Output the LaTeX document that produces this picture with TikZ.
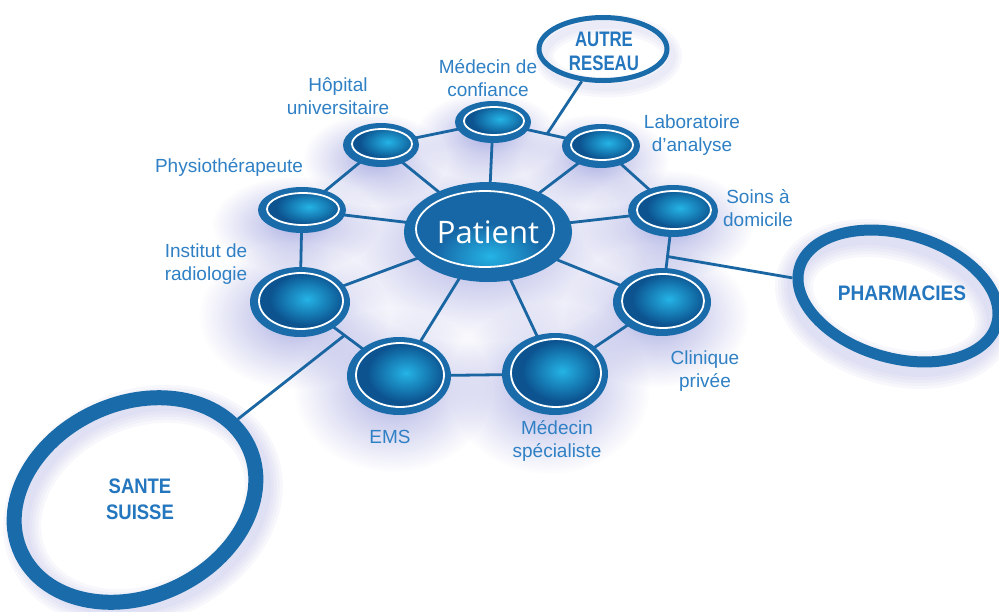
\documentclass[tikz,border=0pt]{standalone}
\usepackage{fontspec}
\usepackage{graphicx}
\setmainfont{Liberation Sans}
\newfontfamily\patfont{Open Sans}
\usetikzlibrary{shapes.geometric,fadings,calc}
\definecolor{ringblue}{HTML}{1A6BA9}
\definecolor{patblue}{HTML}{1767A6}
\definecolor{darkin}{HTML}{0C5390}
\definecolor{hlc}{HTML}{25B4E6}
\definecolor{linec}{HTML}{1A66A2}
\definecolor{textc}{HTML}{2F80C4}
\definecolor{btextc}{HTML}{2476BE}
\definecolor{glowc}{HTML}{8C90D8}
\tikzfading[name=softglow, inner color=transparent!0, outer color=transparent!100]
\pgfdeclarelayer{glowlayer}
\pgfdeclarelayer{linelayer}
\pgfsetlayers{glowlayer,linelayer,main}
\newcommand\cond[2]{\scalebox{#1}[1]{#2}}
\tikzset{
  satn/.style 2 args={ellipse, fill=ringblue, inner sep=0pt, outer sep=0pt,
    minimum width={2*#1pt}, minimum height={2*#2pt},
    path picture={
      \fill[darkin] ($(path picture bounding box.center)+(1,-1)$) ellipse ({#1-9} and {#2-8});
      \begin{scope}
        \clip ($(path picture bounding box.center)+(1,-1)$) ellipse ({#1-9} and {#2-8});
        \fill[hlc, path fading=softglow]
          ($(path picture bounding box.center)+(7,-3)$) ellipse ({0.75*#1} and {0.75*#2});
      \end{scope}
      \draw[white, line width=1.8pt]
        ($(path picture bounding box.center)+(1,-1)$) ellipse ({#1-8} and {#2-7});
    }},
  patn/.style={ellipse, fill=ringblue, inner sep=0pt, outer sep=0pt,
    minimum width=168pt, minimum height=100pt, text=white,
    font=\patfont\fontsize{31}{31}\selectfont,
    path picture={
      \fill[patblue] ($(path picture bounding box.center)+(-3,-3)$) ellipse (69 and 38);
      \begin{scope}
        \clip ($(path picture bounding box.center)+(-3,-3)$) ellipse (69 and 38);
        \fill[hlc, path fading=softglow]
          ($(path picture bounding box.center)+(2,24)$) ellipse (55 and 32);
      \end{scope}
      \draw[white, line width=1.8pt]
        ($(path picture bounding box.center)+(-3,-3)$) ellipse (69 and 38);
    }},
  bigr/.style={ellipse, draw=ringblue, inner sep=0pt},
  conn/.style={draw=linec, line width=2.8pt},
  lbl/.style={text=textc, align=center, inner sep=0pt, font=\fontsize{19}{23}\selectfont},
  btxt/.style={text=btextc, align=center, inner sep=0pt, font=\bfseries\fontsize{21}{#1}\selectfont},
  glowring/.style={draw=glowc, opacity=0.06}
}
\newcommand\glowat[4]{\begin{pgfonlayer}{glowlayer}\fill[glowc, path fading=softglow, opacity=.7] (#1,#2) ellipse ({#3} and {#4});\end{pgfonlayer}}
\begin{document}
\begin{tikzpicture}[x=1pt, y=-1pt]
\useasboundingbox (0,0) rectangle (999,611);
\begin{pgfonlayer}{glowlayer}
  \fill[white] (0,0) rectangle (999,611);
  % soft shadows of the big rings
  \foreach \w in {14,20,26,32,38}{
    \draw[glowring, line width=\w pt, rotate around={25:(143,506)}] (143,506) ellipse (125.5 and 96.5);
    \draw[glowring, line width=\w pt, rotate around={-16:(894,304)}] (894,304) ellipse (102.5 and 62);
  }
  \foreach \w in {8,14,20}{
    \draw[glowring, line width=\w pt] (608,56) ellipse (64 and 31.5);
  }
\end{pgfonlayer}

% glows under the nodes
\glowat{480}{246}{150}{95}
\glowat{487}{136}{72}{44}
\glowat{595}{160}{74}{46}
\glowat{667}{225}{86}{55}
\glowat{656}{316}{93}{71}
\glowat{549}{388}{101}{86}
\glowat{393}{390}{99}{82}
\glowat{294}{316}{95}{73}
\glowat{296}{224}{84}{48}
\glowat{375}{159}{72}{46}

% nodes
\node[patn] (pat) at (488,232) {Patient};
\node[satn={38}{21}] (mdc) at (493,122) {};
\node[satn={39}{22}] (lab) at (601,146) {};
\node[satn={45}{26}] (soi) at (673,211) {};
\node[satn={49}{34}] (cli) at (662,302) {};
\node[satn={53}{41}] (msp) at (555,374) {};
\node[satn={52}{39}] (ems) at (399,376) {};
\node[satn={50}{35}] (rad) at (300,302) {};
\node[satn={44}{23}] (phy) at (302,210) {};
\node[satn={38}{22}] (hop) at (381,145) {};

% outer networks
\node[bigr, line width=5pt, minimum width=128pt, minimum height=63pt] (aut) at (603,49) {};
\node[bigr, line width=11pt, minimum width=205pt, minimum height=124pt, rotate=-16] (phar) at (898,296) {};
\node[bigr, line width=15pt, minimum width=251pt, minimum height=193pt, rotate=25] (san) at (135,500) {};
\node[btxt=24] (taut) at (604,51) {\cond{0.8}{AUTRE}\\\cond{0.8}{RESEAU}};
\node[btxt=24] (tphar) at (902,293) {\cond{0.91}{PHARMACIES}};
\node[btxt=26] (tsan) at (140,499) {\cond{0.88}{SANTE}\\\cond{0.88}{SUISSE}};

% labels
\node[lbl] (lmdc) at (488,78) {Médecin de\\confiance};
\node[lbl] (llab) at (692,135) {Laboratoire\\d’analyse};
\node[lbl] (lsoi) at (758,208) {Soins à\\domicile};
\node[lbl] (lcli) at (705,371) {Clinique\\privée};
\node[lbl] (lmsp) at (557,441) {Médecin\\spécialiste};
\node[lbl] (lems) at (390,437) {EMS};
\node[lbl] (lrad) at (206,264) {Institut de\\radiologie};
\node[lbl] (lphy) at (229,167) {Physiothérapeute};
\node[lbl] (lhop) at (338,96) {Hôpital\\universitaire};

% junction points on the ring
\coordinate (jA) at ($(mdc.center)!0.5!(lab.center)$);
\coordinate (jP) at ($(soi.center)!0.5!(cli.center)$);
\coordinate (jS) at ($(rad.center)!0.45!(ems.center)$);

\begin{pgfonlayer}{linelayer}
  \foreach \n in {mdc,lab,soi,cli,msp,ems,rad,phy,hop}
    \draw[conn] (pat.center) -- (\n.center);
  \draw[conn, line join=round] (hop.center) -- (mdc.center) -- (lab.center) -- (soi.center) -- (cli.center)
    -- (msp.center) -- (ems.center) -- (rad.center) -- (phy.center) -- cycle;
  \draw[conn] (jA) -- (aut);
  \draw[conn] (jP) -- (phar);
  \draw[conn] (jS) -- (san);
\end{pgfonlayer}
\end{tikzpicture}
\end{document}
